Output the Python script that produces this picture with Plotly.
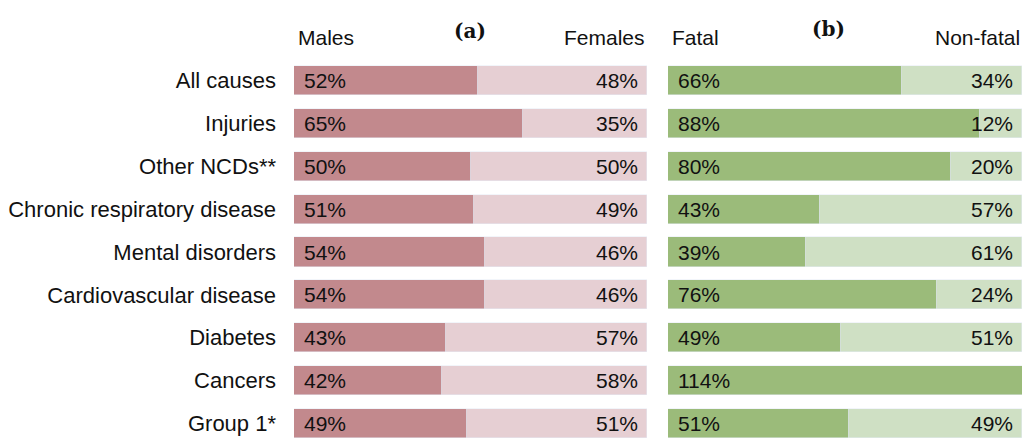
import plotly.graph_objects as go

# data (top to bottom as in the figure)
causes = ['All causes', 'Injuries', 'Other NCDs**', 'Chronic respiratory disease',
          'Mental disorders', 'Cardiovascular disease', 'Diabetes', 'Cancers', 'Group 1*']
males = [52, 65, 50, 51, 54, 54, 43, 42, 49]
females = [48, 35, 50, 49, 46, 46, 57, 58, 51]
fatal = [66, 88, 80, 43, 39, 76, 49, 114, 51]
non_fatal = [34, 12, 20, 57, 61, 24, 51, None, 49]

FONT = 'Liberation Sans, Arial, sans-serif'
dark_rose, light_rose = '#C2898D', '#E6CFD3'
dark_green, light_green = '#9BBB7A', '#CFE0C4'

fig = go.Figure()

fig.add_trace(go.Bar(y=causes, x=males, orientation='h', marker_color=dark_rose,
                     xaxis='x', yaxis='y', width=0.68, hoverinfo='skip'))
fig.add_trace(go.Bar(y=causes, x=females, orientation='h', marker_color=light_rose,
                     xaxis='x', yaxis='y', width=0.68, hoverinfo='skip'))
fig.add_trace(go.Bar(y=causes, x=fatal, orientation='h', marker_color=dark_green,
                     xaxis='x2', yaxis='y', width=0.68, hoverinfo='skip'))
fig.add_trace(go.Bar(y=causes, x=non_fatal, orientation='h', marker_color=light_green,
                     xaxis='x2', yaxis='y', width=0.68, hoverinfo='skip'))

annotations = []
for xref, left, right in [('x', males, females), ('x2', fatal, non_fatal)]:
    for c, l, r in zip(causes, left, right):
        annotations.append(dict(x=0, y=c, xref=xref, yref='y', text=f'{l}%',
                                xanchor='left', xshift=8, showarrow=False))
        if r is not None:
            annotations.append(dict(x=100, y=c, xref=xref, yref='y', text=f'{r}%',
                                    xanchor='right', xshift=-7, showarrow=False))

# headers
for xref, ltxt, rtxt in [('x', 'Males', 'Females'), ('x2', 'Fatal', 'Non-fatal')]:
    annotations.append(dict(x=0, y=0.915, xref=xref, yref='paper', text=ltxt,
                            xanchor='left', xshift=2, yanchor='middle', showarrow=False))
    annotations.append(dict(x=100, y=0.915, xref=xref, yref='paper', text=rtxt,
                            xanchor='right', yanchor='middle', showarrow=False))
annotations.append(dict(x=0.459, y=0.962, xref='paper', yref='paper', text='<b>(a)</b>',
                        showarrow=False, font=dict(family='DejaVu Serif, serif', size=20)))
annotations.append(dict(x=0.827, y=0.965, xref='paper', yref='paper', text='<b>(b)</b>',
                        showarrow=False, font=dict(family='DejaVu Serif, serif', size=20)))

fig.update_layout(
    width=1024, height=439,
    margin=dict(l=0, r=0, t=0, b=0),
    barmode='stack', showlegend=False,
    plot_bgcolor='white', paper_bgcolor='white',
    font=dict(family=FONT, size=21, color='#111111'),
    bargap=0,
    xaxis=dict(domain=[294 / 1024, 647 / 1024], range=[0, 100], visible=False),
    xaxis2=dict(domain=[668 / 1024, 1022 / 1024], range=[0, 100], visible=False),
    yaxis=dict(categoryorder='array', categoryarray=causes[::-1],
               range=[-0.36, 8.5], domain=[0, 1 - 59 / 439],
               showgrid=False, zeroline=False, showline=False, ticks='',
               ticklabelstandoff=17, tickfont=dict(size=22)),
    annotations=annotations,
)

fig.write_html('out.html', config={'displayModeBar': False},
               post_script="document.body.style.margin='0';")
